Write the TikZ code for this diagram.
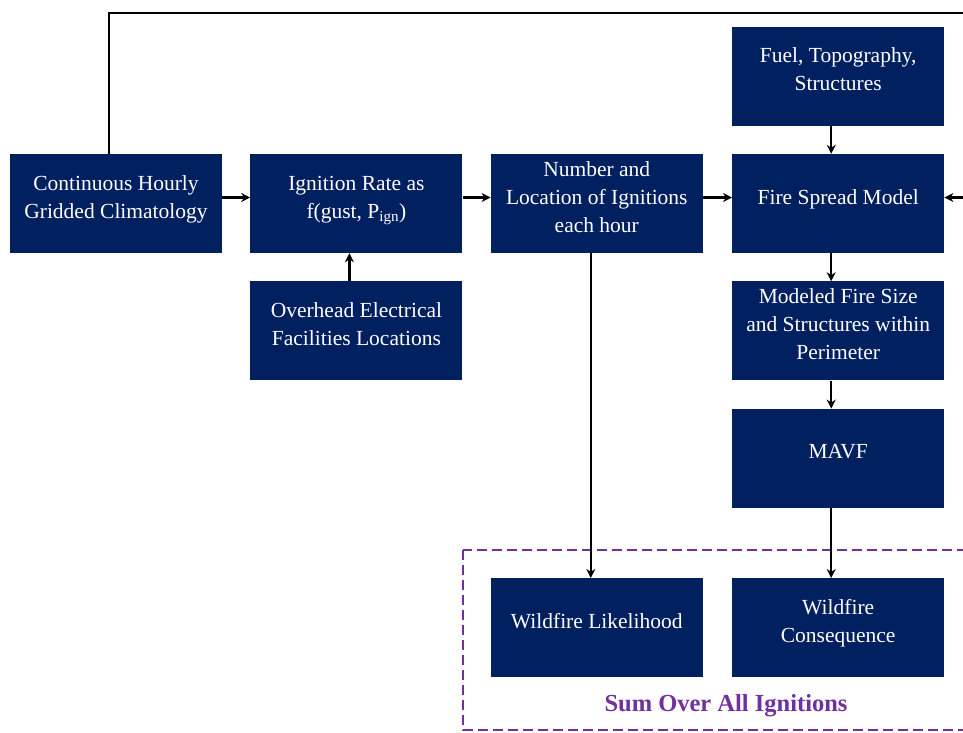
\documentclass[tikz,border=0pt]{standalone}
\usepackage{fontspec}
\setmainfont{Liberation Serif}
\usetikzlibrary{positioning,arrows.meta}

\definecolor{navyblue}{HTML}{002060}
\definecolor{sumpurple}{HTML}{7030A0}
\newcommand{\boxlines}[1]{\raisebox{5pt}[\height][\depth]{\begin{tabular}{@{}c@{}}#1\end{tabular}}}

\tikzstyle{block} = [rectangle, minimum width=212pt, minimum height=99pt, inner sep=0pt, text centered, fill=navyblue, text=white, font=\fontsize{21.5}{28}\selectfont]
\tikzstyle{arrow} = [->, >={Stealth[length=9pt,width=9pt]}, line width=2.5pt]
\tikzstyle{sumbox} = [draw=sumpurple, line width=2.5pt, dash pattern=on 10pt off 5pt]
\tikzstyle{sumtext} = [text=sumpurple, font=\fontsize{24.5}{28}\selectfont\bfseries]

\begin{document}
\begin{tikzpicture}[x=1pt, y=1pt]
	\useasboundingbox (0,0) rectangle (963,-732);
	\clip (0,0) rectangle (963,-732);

	\node (clim) [block] at (116,-203.5) {\boxlines{Continuous Hourly\\Gridded Climatology}};
	\node (ign) [block, right=28pt of clim] {\boxlines{Ignition Rate as\\f(gust, P\textsubscript{ign})}};
	\node (ovh) [block, below=28pt of ign] {\boxlines{Overhead Electrical\\Facilities Locations}};
	\node (num) [block, right=28pt of ign] {\boxlines{Number and\\Location of Ignitions\\each hour}};
	\node (fire) [block, right=29pt of num] {\boxlines{Fire Spread Model}};
	\node (fuel) [block, above=28pt of fire] {\boxlines{Fuel, Topography,\\Structures}};
	\node (size) [block, below=28pt of fire] {\boxlines{Modeled Fire Size\\and Structures within\\Perimeter}};
	\node (mavf) [block, below=28pt of size] {\boxlines{MAVF}};
	\node (cons) [block, below=70pt of mavf] {\boxlines{Wildfire\\Consequence}};
	\node (like) [block, left=29pt of cons] {\boxlines{Wildfire Likelihood}};

	% dashed summation area
	\draw [sumbox] (463,-550) rectangle (1000,-730);
	\node (sumlabel) [sumtext] at (726,-706) {Sum Over All Ignitions};

	\draw [arrow] ([yshift=6pt]clim.east) -- ([yshift=6pt]ign.west);
	\draw [arrow] ([yshift=6pt]ign.east) -- ([yshift=6pt]num.west);
	\draw [arrow] ([yshift=6pt]num.east) -- ([yshift=6pt]fire.west);
	\draw [arrow] ([xshift=-7pt]ovh.north) -- ([xshift=-7pt]ign.south);
	\draw [arrow] ([xshift=-7pt]fuel.south) -- ([xshift=-7pt]fire.north);
	\draw [arrow] ([xshift=-7pt]fire.south) -- ([xshift=-7pt]size.north);
	\draw [arrow] ([xshift=-7pt]size.south) -- ([xshift=-7pt]mavf.north);
	\draw [arrow] ([xshift=-7pt]mavf.south) -- ([xshift=-7pt]cons.north);
	\draw [arrow] ([xshift=-6pt]num.south) -- ([xshift=-6pt]like.north);

	% feedback loop over the top
	\coordinate (loopcorner) at (985,-13);
	\draw [arrow] ([xshift=-7pt]clim.north) |- (loopcorner) |- ([yshift=6pt]fire.east);
\end{tikzpicture}
\end{document}
